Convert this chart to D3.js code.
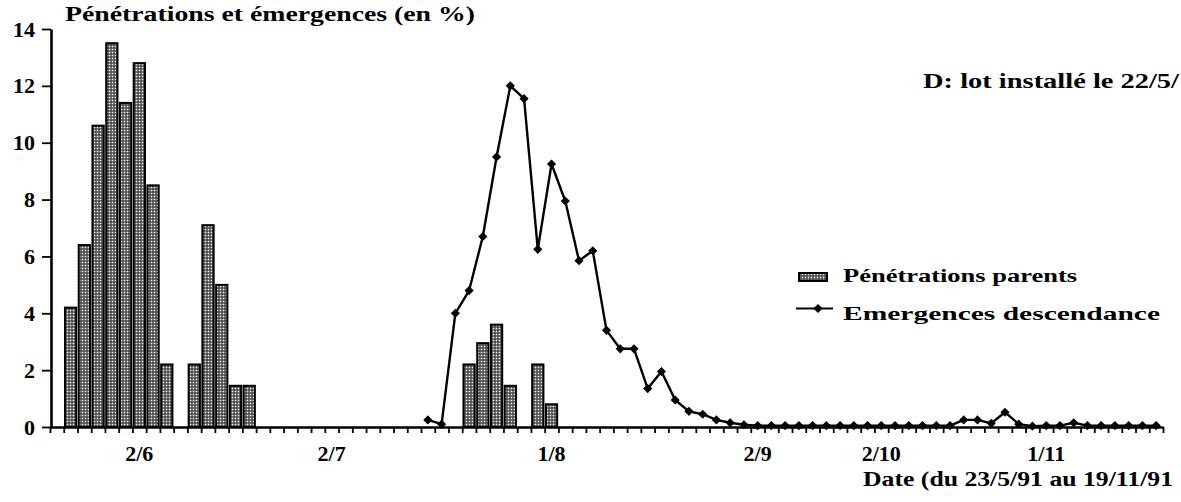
<!DOCTYPE html>
<html>
<head>
<meta charset="utf-8">
<title>Pénétrations et émergences</title>
<script src="https://cdn.jsdelivr.net/npm/d3@7"></script>
<style>
  body { margin: 0; background: #fff; }
  svg { display: block; background: #fff; }
  text { font-family: 'Liberation Serif', 'DejaVu Serif', serif; font-weight: bold; fill: #000; }
  .bar { fill: url(#grille); stroke: #000; stroke-width: 2; }
  .courbe { fill: none; stroke: #000; stroke-width: 2.4; stroke-linejoin: round; }
  .axe path { stroke: #000; stroke-width: 2.6; }
  .axe line { stroke: #000; stroke-width: 1.8; }
</style>
</head>
<body>
<svg width="1181" height="502"></svg>
<script>

// one category per sampling date (23/5/91 -> 19/11/91)
var nbDates = 81;
var categories = d3.range(nbDates);

// Pénétrations parents (%)
var penetrations = [
  0, 4.2, 6.4, 10.6, 13.5, 11.4, 12.8, 8.5, 2.2, 0,
  2.2, 7.1, 5.0, 1.45, 1.45, 0, 0, 0, 0, 0,
  0, 0, 0, 0, 0, 0, 0, 0, 0, 0,
  2.2, 2.95, 3.6, 1.45, 0, 2.2, 0.8, 0, 0, 0,
  0, 0, 0, 0, 0, 0, 0, 0, 0, 0,
  0, 0, 0, 0, 0, 0, 0, 0, 0, 0,
  0, 0, 0, 0, 0, 0, 0, 0, 0, 0,
  0, 0, 0, 0, 0, 0, 0, 0, 0, 0,
  0
];

// Emergences descendance (%)
var emergences = [
  null, null, null, null, null, null, null, null, null, null,
  null, null, null, null, null, null, null, null, null, null,
  null, null, null, null, null, null, null, 0.25, 0.1, 4.0,
  4.8, 6.7, 9.5, 12.0, 11.55, 6.25, 9.25, 7.95, 5.85, 6.2,
  3.4, 2.75, 2.75, 1.35, 1.95, 0.95, 0.55, 0.45, 0.25, 0.15,
  0.08, 0.05, 0.05, 0.05, 0.05, 0.05, 0.05, 0.05, 0.05, 0.05,
  0.05, 0.05, 0.05, 0.05, 0.05, 0.05, 0.25, 0.25, 0.13, 0.52,
  0.1, 0.03, 0.05, 0.05, 0.15, 0.05, 0.05, 0.05, 0.05, 0.05,
  0.05
];

var yTicks = [0, 2, 4, 6, 8, 10, 12, 14];
var dateLabels = ["2/6", "2/7", "1/8", "2/9", "2/10", "1/11"];
var dateIndex = [6, 20, 36, 51, 60, 72];

var svg = d3.select("svg");

var x = d3.scaleBand().domain(categories).range([50, 1163])
    .paddingInner(0.18).paddingOuter(0.09);
var xb = d3.scaleLinear().domain([0, nbDates]).range([50, 1163]);
var y = d3.scaleLinear().domain([0, 14]).range([427, 29]);

// trame des barres
var pat = svg.append("defs").append("pattern")
    .attr("id", "grille")
    .attr("patternUnits", "userSpaceOnUse")
    .attr("width", 3).attr("height", 3);
pat.append("rect").attr("width", 3).attr("height", 3).attr("fill", "#333");
pat.append("rect").attr("x", 0.6).attr("y", 0.6).attr("width", 1.8).attr("height", 1.8).attr("fill", "#eee");

// barres
svg.selectAll(".bar")
  .data(penetrations.map(function(v, i) { return {i: i, v: v}; }).filter(function(d) { return d.v > 0; }))
  .enter().append("rect")
    .attr("class", "bar")
    .attr("x", function(d) { return x(d.i); })
    .attr("y", function(d) { return y(d.v); })
    .attr("width", x.bandwidth())
    .attr("height", function(d) { return y(0) - y(d.v); });

// courbe
var ligne = d3.line()
    .defined(function(d) { return d != null; })
    .x(function(d, i) { return x(i) + x.bandwidth() / 2; })
    .y(function(d) { return y(d); });

svg.append("path")
    .datum(emergences)
    .attr("class", "courbe")
    .attr("d", ligne);

var losange = d3.symbol(d3.symbolSquare, 42);
svg.selectAll(".pt")
  .data(emergences.map(function(v, i) { return {i: i, v: v}; }).filter(function(d) { return d.v != null; }))
  .enter().append("path")
    .attr("class", "pt")
    .attr("d", losange)
    .attr("fill", "#000")
    .attr("transform", function(d) {
      return "translate(" + (x(d.i) + x.bandwidth() / 2) + "," + y(d.v) + ") rotate(45)";
    });

// axe des x : graduations
svg.append("g")
    .attr("class", "axe")
    .attr("transform", "translate(0," + y(0) + ")")
    .call(d3.axisBottom(xb).tickValues(d3.range(nbDates + 1)).tickSize(6).tickSizeOuter(0).tickFormat(""));

// axe des x : dates
var ax = svg.append("g")
    .attr("transform", "translate(0," + y(0) + ")")
    .call(d3.axisBottom(x).tickValues(dateIndex).tickSize(0).tickPadding(18)
      .tickFormat(function(d) { return dateLabels[dateIndex.indexOf(d)]; }));
ax.select(".domain").remove();
ax.selectAll("text").attr("font-size", 22).attr("font-family", null);

// axe des y
var ay = svg.append("g")
    .attr("class", "axe")
    .attr("transform", "translate(51,0)")
    .call(d3.axisLeft(y).tickValues(yTicks).tickSize(9).tickSizeOuter(0).tickPadding(7));
ay.selectAll("text").attr("font-size", 22).attr("font-family", null);

function texte(tx, px, py, taille, largeur) {
  svg.append("text").attr("x", px).attr("y", py).attr("font-size", taille)
      .attr("textLength", largeur).attr("lengthAdjust", "spacingAndGlyphs")
      .text(tx);
}
texte("Pénétrations et émergences (en %)", 65, 21, 20, 410);
texte("D: lot installé le 22/5/", 923, 88, 21, 256);
texte("Date (du 23/5/91 au 19/11/91", 863, 486, 21, 310);

// légende
svg.append("rect").attr("class", "bar")
    .attr("x", 799).attr("y", 273).attr("width", 28).attr("height", 8);
texte("Pénétrations parents", 843, 282, 19, 234);
svg.append("line").attr("x1", 796).attr("x2", 833).attr("y1", 308.5).attr("y2", 308.5)
    .attr("stroke", "#000").attr("stroke-width", 2.2);
svg.append("path").attr("d", losange).attr("fill", "#000")
    .attr("transform", "translate(818,308.5) rotate(45)");
texte("Emergences descendance", 843, 320, 19, 317);

</script>
</body>
</html>
